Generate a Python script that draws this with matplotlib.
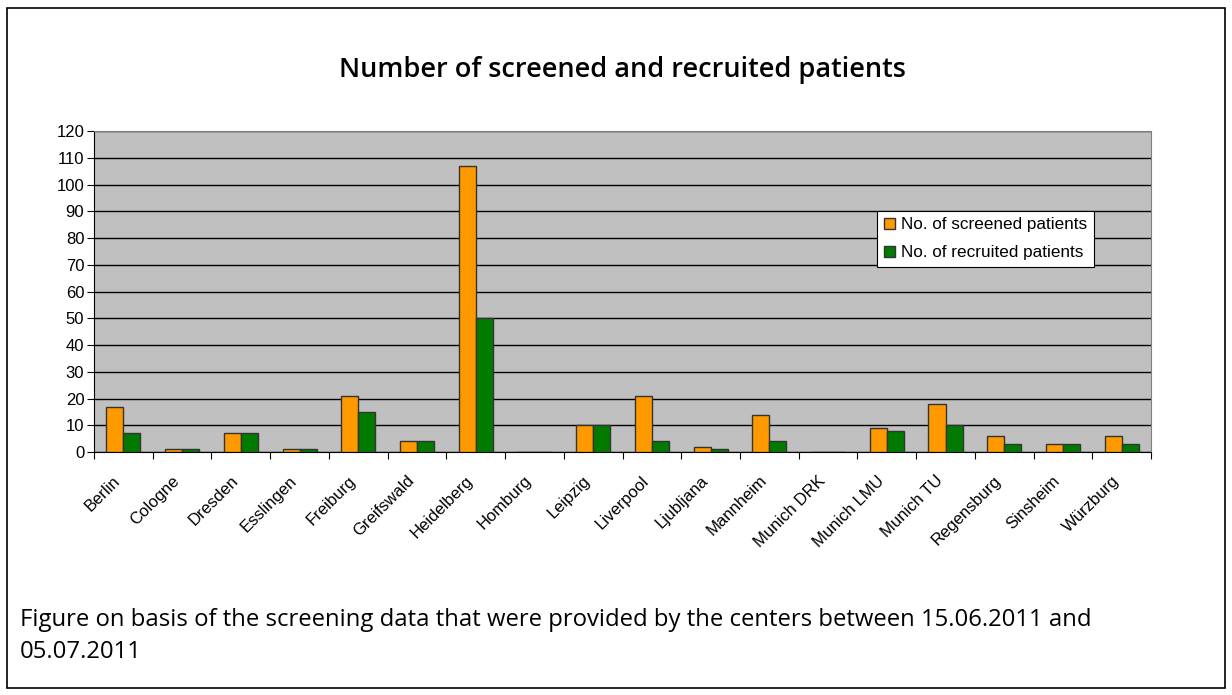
import numpy as np
import matplotlib.pyplot as plt
from matplotlib.patches import Rectangle

centers = ['Berlin', 'Cologne', 'Dresden', 'Esslingen', 'Freiburg', 'Greifswald',
           'Heidelberg', 'Homburg', 'Leipzig', 'Liverpool', 'Ljubljana', 'Mannheim',
           'Munich DRK', 'Munich LMU', 'Munich TU', 'Regensburg', 'Sinsheim', 'Würzburg']
screened = [17, 1, 7, 1, 21, 4, 107, 0, 10, 21, 2, 14, 0, 9, 18, 6, 3, 6]
recruited = [7, 1, 7, 1, 15, 4, 50, 0, 10, 4, 1, 4, 0, 8, 10, 3, 3, 3]
yticks = list(range(0, 121, 10))

fig = plt.figure(figsize=(12.32, 6.95), dpi=100)
ax = fig.add_axes([0.0763, 0.3496, 0.858, 0.4619])

x = np.arange(len(centers))
w = 0.29
ax.bar(x - w / 2, screened, w, color='#ff9900', edgecolor='#333333', linewidth=1,
       label='No. of screened patients', zorder=3)
ax.bar(x + w / 2, recruited, w, color='#007a00', edgecolor='#333333', linewidth=1,
       label='No. of recruited patients', zorder=3)

ax.set_facecolor('#c0c0c0')
ax.set_xlim(-0.5, len(centers) - 0.5)
ax.set_ylim(0, 120)
ax.set_yticks(yticks)
ax.set_yticklabels([str(v) for v in yticks], fontsize=12, family='Liberation Sans')
ax.yaxis.grid(True, color='black', linewidth=1, zorder=1)
ax.set_axisbelow(True)

# category boundaries as ticks, labels at centers
ax.set_xticks(np.arange(-0.5, len(centers), 1))
ax.set_xticklabels([])
ax.set_xticks(x - 0.18, minor=True)
ax.set_xticklabels(centers, minor=True, rotation=45, ha='right', va='top',
                   rotation_mode='anchor', fontsize=12, family='Liberation Sans')
ax.tick_params(axis='x', which='minor', length=0, pad=15)
ax.tick_params(axis='x', which='major', length=5, color='black')
ax.tick_params(axis='y', length=5, color='black', pad=2)

for s in ['top', 'right']:
    ax.spines[s].set_color('#808080')
for s in ['left', 'bottom']:
    ax.spines[s].set_color('black')

leg = ax.legend(loc='upper left', bbox_to_anchor=(0.741, 0.752), frameon=True,
                fancybox=False, edgecolor='black', framealpha=1,
                prop={'family': 'Liberation Sans', 'size': 12.3},
                handlelength=0.65, handleheight=0.65, handletextpad=0.35,
                borderpad=0.4, labelspacing=0.75, borderaxespad=0)
leg.get_frame().set_linewidth(0.8)

fig.text(0.505, 0.900, 'Number of screened and recruited patients', ha='center',
         va='center', fontsize=19.5, family='Open Sans', weight='semibold')
fig.text(0.016, 0.108, 'Figure on basis of the screening data that were provided by the centers between 15.06.2011 and',
         ha='left', va='center', fontsize=17.2, family='Open Sans')
fig.text(0.016, 0.062, '05.07.2011', ha='left', va='center', fontsize=17.2, family='Open Sans')

fig.patches.append(Rectangle((0.006, 0.01), 0.988, 0.978, transform=fig.transFigure,
                             fill=False, edgecolor='black', linewidth=1.2))

fig.savefig('out.png', dpi=100)
